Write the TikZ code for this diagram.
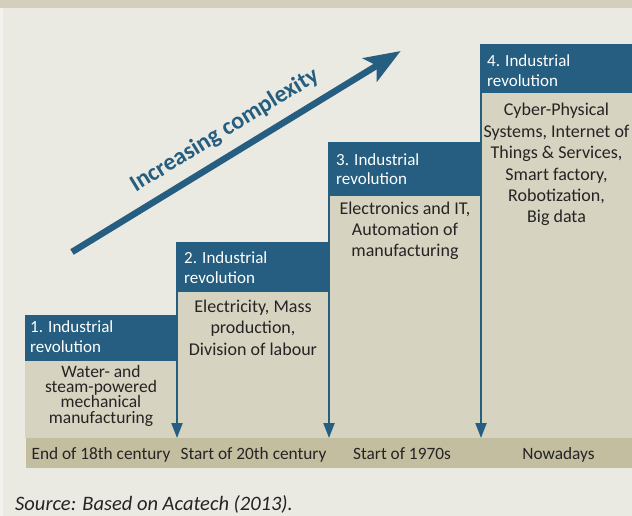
\documentclass[tikz,border=0pt]{standalone}
\usepackage{fontspec}
\setmainfont{Carlito}
\usetikzlibrary{arrows.meta}
\definecolor{bgc}{HTML}{EBEAE2}
\definecolor{stripc}{HTML}{F3F2EE}
\definecolor{bandc}{HTML}{D4CFBC}
\definecolor{bluec}{HTML}{255E80}
\definecolor{bodyc}{HTML}{D6D3C1}
\definecolor{barc}{HTML}{C3BEA0}
\definecolor{txtc}{HTML}{262324}
\tikzset{
  hdr/.style={fill=bluec, inner sep=0pt, anchor=north west, minimum width=152pt},
  hdrtext/.style={text=white, inner sep=0pt, anchor=base west, font=\fontsize{17}{20}\selectfont},
  bodytext/.style={text=txtc, inner sep=0pt, anchor=base},
  bartext/.style={text=txtc, inner sep=0pt, anchor=base, font=\fontsize{17.3}{20}\selectfont},
  varrow/.style={draw=bluec, line width=2pt, -{Triangle[length=15pt,width=11pt]}},
  bigarrow/.style={draw=bluec, line width=6.5pt, -{Stealth[length=36pt,width=27pt,inset=8pt]}}
}
\begin{document}
\begin{tikzpicture}[x=1pt,y=-1pt]
\useasboundingbox (0,0) rectangle (632,516);
\fill[bgc] (0,0) rectangle (632,516);
\fill[stripc] (0,0) rectangle (3,516);
\fill[bandc] (0,0) rectangle (632,8);
% bodies
\fill[bodyc] (25,361) rectangle (177,438);
\fill[bodyc] (177,292) rectangle (329,438);
\fill[bodyc] (329,196) rectangle (481,438);
\fill[bodyc] (481,93) rectangle (632,438);
% headers
\node[hdr, minimum height=46pt] (h1) at (25,315) {};
\node[hdr, minimum height=50pt] (h2) at (177,242) {};
\node[hdr, minimum height=54pt] (h3) at (329,142) {};
\node[hdr, minimum height=49pt, minimum width=151pt] (h4) at (481,44) {};
% bar
\node[fill=barc, inner sep=0pt, anchor=north west, minimum width=606pt, minimum height=30pt] (bar) at (26,438) {};
% header texts
\node[hdrtext] (ht1) at (30,332) {\parbox[t]{145pt}{\raggedright 1. Industrial\\revolution}};
\node[hdrtext] (ht2) at (184,263) {\parbox[t]{145pt}{\raggedright 2. Industrial\\revolution}};
\node[hdrtext] (ht3) at (336,165) {\parbox[t]{145pt}{\raggedright 3. Industrial\\revolution}};
\node[hdrtext] (ht4) at (487,66.5) {\parbox[t]{145pt}{\raggedright 4. Industrial\\revolution}};
% body texts
\node[bodytext] (b1) at (101,377) {\parbox[t]{150pt}{\fontsize{17.5}{15.4}\selectfont\centering Water- and\\steam-powered\\mechanical\\manufacturing}};
\node[bodytext] (b2) at (253,312) {\parbox[t]{150pt}{\fontsize{18}{21.5}\selectfont\centering Electricity, Mass\\production,\\Division of labour}};
\node[bodytext] (b3) at (405,214) {\parbox[t]{150pt}{\fontsize{18}{21.4}\selectfont\centering Electronics and IT,\\Automation of\\manufacturing}};
\node[bodytext] (b4) at (556.5,116) {\parbox[t]{150pt}{\fontsize{18}{21.4}\selectfont\centering Cyber-Physical\\Systems, Internet of\\Things \& Services,\\Smart factory,\\Robotization,\\Big data}};
% bar labels
\node[bartext] (l1) at (101,459) {End of 18th century};
\node[bartext] (l2) at (253.5,459) {Start of 20th century};
\node[bartext] (l3) at (402,459) {Start of 1970s};
\node[bartext] (l4) at (558.5,459) {Nowadays};
% vertical arrows
\draw[varrow] (h2.north west) -- (h2.north west |- bar.north);
\draw[varrow] (h3.north west) -- (h3.north west |- bar.north);
\draw[varrow] (h4.north west) -- (h4.north west |- bar.north);
% big arrow
\coordinate (atail) at (72,252);
\coordinate (atip) at (400.7,51);
\draw[bigarrow] (atail) -- (atip);
\node[rotate=31.4, anchor=base, inner sep=0pt, text=bluec, font=\fontsize{24}{28}\selectfont\bfseries] (cx) at (228,136) {Increasing complexity};
% source
\node[anchor=base west, inner sep=0pt, text=txtc, font=\fontsize{20.5}{24}\selectfont\itshape] (src) at (15,510) {Source: Based on Acatech (2013).};
\end{tikzpicture}
\end{document}
